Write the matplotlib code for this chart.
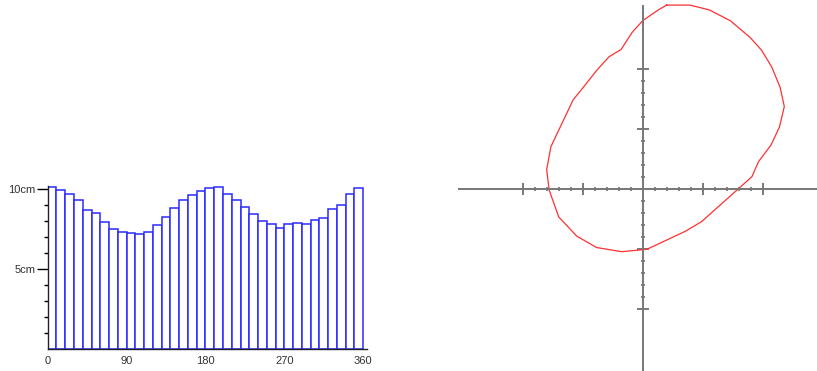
import numpy as np
import matplotlib.pyplot as plt

plt.rcParams["font.family"] = ["Liberation Sans", "DejaVu Sans"]

# radius per 10 degree sector, in cm
bin_edges = np.arange(0, 370, 10)
radius_cm = [10.14, 9.94, 9.69, 9.29, 8.69, 8.48, 7.96, 7.48, 7.29,
             7.23, 7.19, 7.29, 7.73, 8.23, 8.79, 9.29, 9.60, 9.85,
             10.04, 10.10, 9.69, 9.29, 8.90, 8.46, 8.02, 7.79, 7.58,
             7.79, 7.90, 7.79, 8.04, 8.17, 8.73, 9.00, 9.71, 10.04]
angle_ticks = [0, 90, 180, 270, 360]
cm_ticks = [5, 10]
cm_labels = ["5cm", "10cm"]

# outline traced in the plane (1 unit per major tick)
outline_x = [0.40, 0.79, 1.11, 1.46, 1.79, 1.98, 2.15, 2.29, 2.36, 2.28,
             2.14, 1.93, 1.82, 0.98, 0.71, 0.07, -0.35, -0.77, -1.10,
             -1.40, -1.56, -1.60, -1.53, -1.16, -0.99, -0.76, -0.56,
             -0.36, -0.18, 0.00, 0.26]
outline_y = [3.07, 3.07, 2.99, 2.81, 2.53, 2.32, 2.04, 1.70, 1.38, 1.04,
             0.74, 0.46, 0.21, -0.54, -0.70, -1.00, -1.04, -0.97, -0.78,
             -0.46, -0.01, 0.33, 0.71, 1.49, 1.70, 1.99, 2.21, 2.33,
             2.61, 2.81, 2.99]

W, H = 817, 371
fig = plt.figure(figsize=(W / 100, H / 100), dpi=100)

# --- histogram on the left ---
ax = fig.add_axes([47.7 / W, 22 / H, 319 / W, 163.2 / H])
ax.bar(bin_edges[:-1], radius_cm, width=10, align="edge",
       facecolor="white", edgecolor="#2a2aff", linewidth=1.1)
ax.set_xlim(0, 364)
ax.set_ylim(0, 10.2)
ax.spines["top"].set_visible(False)
ax.spines["right"].set_visible(False)
for s in ("left", "bottom"):
    ax.spines[s].set_linewidth(1.0)
    ax.spines[s].set_color("#222222")
ax.set_xticks(angle_ticks)
ax.set_xticklabels([str(a) for a in angle_ticks])
ax.set_yticks(cm_ticks)
ax.set_yticklabels(cm_labels)
ax.set_yticks(np.arange(1, 11), minor=True)
ax.tick_params(axis="x", length=0, pad=5, labelsize=8, labelcolor="#333333")
ax.tick_params(axis="y", which="major", length=8, width=1, pad=1,
               labelsize=8, labelcolor="#333333")
ax.tick_params(axis="y", which="minor", length=3, width=1)

# --- outline plot on the right, axes crossing at the origin ---
cx, cy, unit = 642.7, 189.3, 60.0
bx = fig.add_axes([440 / W, 0, (W - 440) / W, 1])
bx.set_xlim((440 - cx) / unit, (W - cx) / unit)
bx.set_ylim(-(H - cy) / unit, cy / unit)
xs = list(outline_x) + [outline_x[0]]
ys = list(outline_y) + [outline_y[0]]
bx.plot(xs, ys, color="#ff3030", linewidth=0.9)

bx.spines["top"].set_visible(False)
bx.spines["right"].set_visible(False)
bx.spines["left"].set_position("zero")
bx.spines["bottom"].set_position("zero")
bx.spines["bottom"].set_bounds(-3.06, 3.1)
bx.spines["left"].set_bounds(-3.1, 3.05)
for s in ("left", "bottom"):
    bx.spines[s].set_color("#777777")
    bx.spines[s].set_linewidth(1.4)
major = [-2, -1, 1, 2]
minor = [v for v in np.round(np.arange(-2, 2.01, 0.2), 1) if v not in (-2, -1, 0, 1, 2)]
bx.set_xticks(major)
bx.set_yticks(major)
bx.set_xticks(minor, minor=True)
bx.set_yticks(minor, minor=True)
bx.set_xticklabels([])
bx.set_yticklabels([])
bx.tick_params(which="major", direction="inout", length=9, width=1.1, color="#555555")
bx.tick_params(which="minor", direction="inout", length=3.5, width=1.1, color="#666666")
bx.patch.set_visible(False)

fig.savefig("out.png", dpi=100)
